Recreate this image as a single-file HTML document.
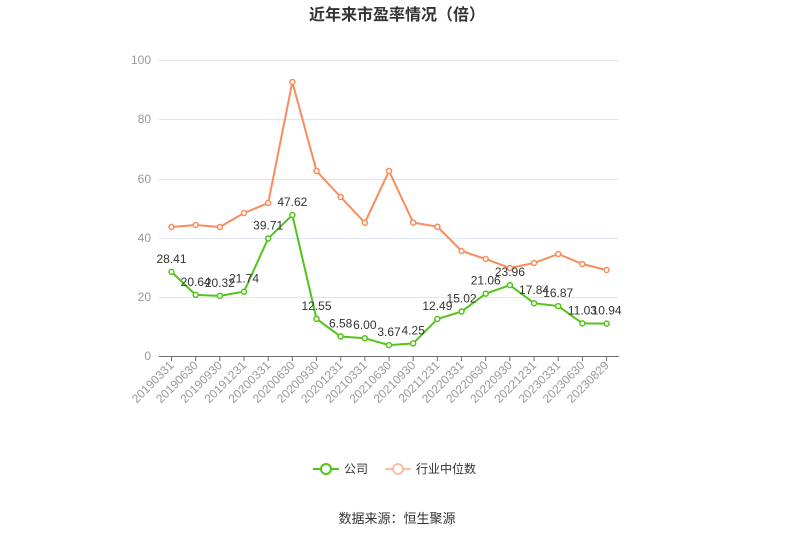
<!DOCTYPE html><html><head><meta charset="utf-8"><style>body{margin:0;background:#fff}svg{display:block;font-family:"Liberation Sans","Noto Sans CJK SC",sans-serif}</style></head><body>
<svg width="794" height="538" viewBox="0 0 794 538">
<text x="397" y="20" text-anchor="middle" font-size="16" font-weight="bold" fill="#333">近年来市盈率情况（倍）</text>
<g stroke="#e0e6f1" stroke-width="1">
<line x1="159" y1="60.5" x2="619" y2="60.5"/><line x1="159" y1="119.5" x2="619" y2="119.5"/><line x1="159" y1="179.5" x2="619" y2="179.5"/><line x1="159" y1="238.5" x2="619" y2="238.5"/><line x1="159" y1="297.5" x2="619" y2="297.5"/></g>
<line x1="159" y1="356.5" x2="619" y2="356.5" stroke="#6e7079"/>
<g font-size="12" fill="#999" text-anchor="end"><text x="151" y="64">100</text><text x="151" y="123">80</text><text x="151" y="183">60</text><text x="151" y="242">40</text><text x="151" y="301">20</text><text x="151" y="360">0</text></g>
<g id="ticks" stroke="#6e7079"></g>
<g id="xl" font-size="12" fill="#999"></g>
<polyline id="o" fill="none" stroke="#f98b5c" stroke-width="2"/>
<polyline id="g" fill="none" stroke="#52c41a" stroke-width="2"/>
<g id="pts"></g>
<g id="lb" font-size="12" fill="#333" text-anchor="middle"></g>
<line x1="313" y1="469" x2="339" y2="469" stroke="#52c41a" stroke-width="2"/><circle cx="326" cy="469" r="5" fill="#fff" stroke="#52c41a" stroke-width="2"/>
<text x="344" y="473" font-size="12" fill="#333">公司</text>
<line x1="385" y1="469" x2="411" y2="469" stroke="#fbbfa4" stroke-width="2"/><circle cx="398" cy="469" r="5" fill="#fff" stroke="#fbbfa4" stroke-width="2"/>
<text x="416" y="473" font-size="12" fill="#333">行业中位数</text>
<text x="397" y="523" text-anchor="middle" font-size="13" fill="#333">数据来源：恒生聚源</text>
</svg>
<script>
var N=["20190331","20190630","20190930","20191231","20200331","20200630","20200930","20201231","20210331","20210630","20210930","20211231","20220331","20220630","20220930","20221231","20230331","20230630","20230829"];
var G=[28.41,20.64,20.32,21.74,39.71,47.62,12.55,6.58,6.00,3.67,4.25,12.49,15.02,21.06,23.96,17.84,16.87,11.03,10.94];
var O=[227,225,227,213,203,82,171,197,222.7,171,222.6,226.7,251,259,268,263,254,264,270];
var t="",xl="",p="",l="",gp=[],op=[];
for(var i=0;i<19;i++){var x=171.5+i*24.17,gy=356-2.96*G[i];
t+='<line x1="'+x+'" y1="356" x2="'+x+'" y2="361"/>';
xl+='<text transform="translate('+(x+3)+',366) rotate(-45)" text-anchor="end">'+N[i]+'</text>';
gp.push(x+','+gy);op.push(x+','+O[i]);
p+='<circle cx="'+x+'" cy="'+O[i]+'" r="2.5" fill="#fff" stroke="#f98b5c" stroke-width="1.5"/><circle cx="'+x+'" cy="'+gy+'" r="2.5" fill="#fff" stroke="#52c41a" stroke-width="1.5"/>';
l+='<text x="'+x+'" y="'+(gy-9)+'">'+G[i].toFixed(2)+'</text>';}
document.getElementById('ticks').innerHTML=t;document.getElementById('xl').innerHTML=xl;
document.getElementById('g').setAttribute('points',gp.join(' '));document.getElementById('o').setAttribute('points',op.join(' '));
document.getElementById('pts').innerHTML=p;document.getElementById('lb').innerHTML=l;
</script></body></html>
